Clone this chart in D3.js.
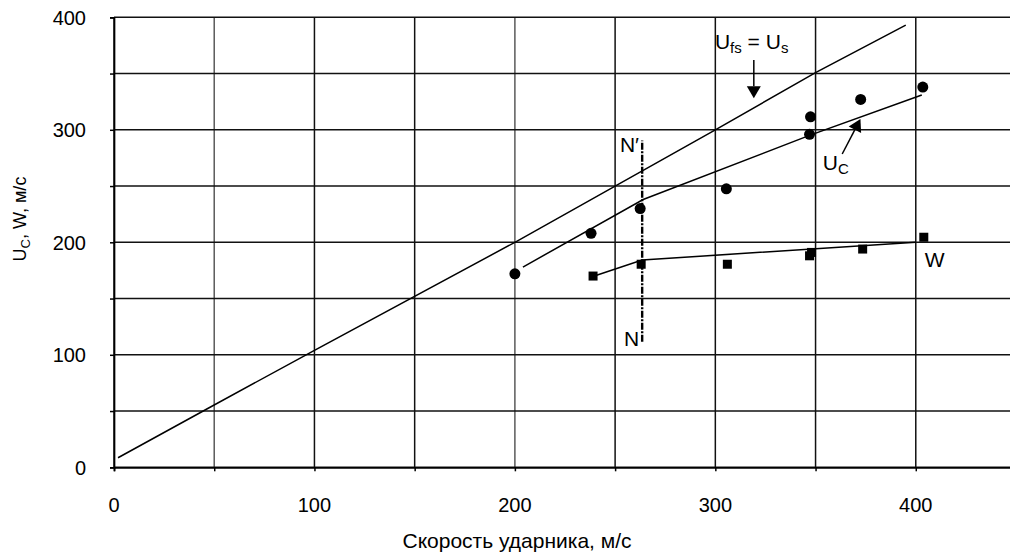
<!DOCTYPE html>
<html>
<head>
<meta charset="utf-8">
<script src="https://cdn.jsdelivr.net/npm/d3@7"></script>
<style>
  html, body { margin: 0; padding: 0; background: #fff; }
  svg { display: block; }
  text { font-family: "Liberation Sans", Arial, sans-serif; fill: #000; }
</style>
</head>
<body>
<svg id="chart" width="1010" height="555"></svg>
<script>
// Impactor velocity (m/s) vs. U_C and W (m/s)
const xTicks = [0, 100, 200, 300, 400];
const yTicks = [0, 100, 200, 300, 400];
const gridStep = 50;

// U_C measurements (circles)
const ucX = [200, 238, 262.5, 305.5, 347, 347.5, 372.5, 403.5];
const ucY = [172, 208, 230, 247.5, 296, 311.5, 327, 338];
// U_C trend line
const ucLineX = [204, 264, 347, 403];
const ucLineY = [178, 238, 295, 331];

// W measurements (squares)
const wX = [239, 263, 306, 347, 348, 373.5, 404];
const wY = [170, 180.5, 180.5, 188, 191, 194, 204.5];
// W trend line
const wLineX = [240, 263.5, 400];
const wLineY = [170.3, 184.3, 200];

// U_fs = U_s line
const usLineX = [2, 47, 100, 200, 300, 350, 395];
const usLineY = [8.5, 52.5, 104, 200, 300, 350.8, 393];

// N–N' section line
const nnX = 263.5;
const nnY = [111.5, 290.5];

const svg = d3.select("#chart");
const x = d3.scaleLinear().domain([0, 450]).range([114, 1016]);
const y = d3.scaleLinear().domain([0, 400]).range([467.3, 17.3]);

// grid
const gx = d3.range(0, 451, gridStep);
const gy = d3.range(0, 401, gridStep);
svg.append("g").selectAll("line").data(gx).join("line")
  .attr("x1", d => x(d)).attr("x2", d => x(d))
  .attr("y1", y(0)).attr("y2", y(400))
  .attr("stroke", d => (d === 50 || d === 200) ? "#5a5a5a" : "#111")
  .attr("stroke-width", 1.5);
svg.append("g").selectAll("line").data(gy).join("line")
  .attr("x1", x(0)).attr("x2", x(450))
  .attr("y1", d => y(d)).attr("y2", d => y(d))
  .attr("stroke", "#111").attr("stroke-width", 1.5);

// axes
const xAxis = svg.append("g").attr("transform", `translate(0,${y(0)})`)
  .call(d3.axisBottom(x).tickValues(gx).tickSize(4).tickFormat(""));
const yAxis = svg.append("g").attr("transform", `translate(${x(0)},0)`)
  .call(d3.axisLeft(y).tickValues(gy).tickSize(4).tickFormat(""));
[xAxis, yAxis].forEach(a => {
  a.selectAll("path").attr("stroke", "#000").attr("stroke-width", 1.7);
  a.selectAll("line").attr("stroke", "#000").attr("stroke-width", 1.5);
});

// tick labels
svg.append("g").selectAll("text").data(xTicks).join("text")
  .attr("x", d => x(d)).attr("y", 511.5)
  .attr("text-anchor", "middle").attr("font-size", 20)
  .text(d => d);
svg.append("g").selectAll("text").data(yTicks).join("text")
  .attr("x", 86).attr("y", d => y(d) + 7.5)
  .attr("text-anchor", "end").attr("font-size", 20)
  .text(d => d);

// axis titles
svg.append("text").attr("x", 517).attr("y", 547.5)
  .attr("text-anchor", "middle").attr("font-size", 21)
  .text("Скорость ударника, м/с");
const yt = svg.append("text")
  .attr("transform", `translate(25.5,219) rotate(-90)`)
  .attr("text-anchor", "middle").attr("font-size", 18);
yt.append("tspan").text("U");
yt.append("tspan").attr("font-size", 13).attr("dy", 4).text("C");
yt.append("tspan").attr("dy", -4).text(", W, м/с");

const line = d3.line().x(d => x(d[0])).y(d => y(d[1]));

// lines
svg.append("path").datum(d3.zip(usLineX, usLineY)).attr("d", line)
  .attr("fill", "none").attr("stroke", "#000").attr("stroke-width", 1.5);
svg.append("path").datum(d3.zip(ucLineX, ucLineY)).attr("d", line)
  .attr("fill", "none").attr("stroke", "#000").attr("stroke-width", 1.5);
svg.append("path").datum(d3.zip(wLineX, wLineY)).attr("d", line)
  .attr("fill", "none").attr("stroke", "#000").attr("stroke-width", 1.5);

// N–N' dash-dot line
svg.append("line")
  .attr("x1", x(nnX)).attr("x2", x(nnX))
  .attr("y1", y(nnY[0])).attr("y2", y(nnY[1]))
  .attr("stroke", "#000").attr("stroke-width", 2.4)
  .attr("stroke-dasharray", "7,1.5,2,1.5");

// markers
svg.append("g").selectAll("circle").data(d3.zip(ucX, ucY)).join("circle")
  .attr("cx", d => x(d[0])).attr("cy", d => y(d[1])).attr("r", 5.5)
  .attr("fill", "#000");
svg.append("g").selectAll("rect").data(d3.zip(wX, wY)).join("rect")
  .attr("x", d => x(d[0]) - 4.5).attr("y", d => y(d[1]) - 4.5)
  .attr("width", 9).attr("height", 9).attr("fill", "#000");

// arrows
function arrow(x0, y0, x1, y1) {
  const px0 = x(x0), py0 = y(y0), px1 = x(x1), py1 = y(y1);
  const ang = Math.atan2(py1 - py0, px1 - px0);
  const L = 12, W = 7;
  const bx = px1 - L * Math.cos(ang), by = py1 - L * Math.sin(ang);
  svg.append("line").attr("x1", px0).attr("y1", py0).attr("x2", bx).attr("y2", by)
    .attr("stroke", "#000").attr("stroke-width", 1.5);
  const nx = -Math.sin(ang), ny = Math.cos(ang);
  svg.append("path")
    .attr("d", `M${px1},${py1}L${bx + nx * W},${by + ny * W}L${bx - nx * W},${by - ny * W}Z`)
    .attr("fill", "#000");
}
arrow(319.2, 362, 319.2, 328);
arrow(363.3, 278.5, 372.4, 309.6);

// annotations
function label(tx, ty, parts) {
  const t = svg.append("text").attr("x", x(tx)).attr("y", y(ty)).attr("font-size", 21);
  parts.forEach(p => {
    const s = t.append("tspan").text(p.t);
    if (p.sub) s.attr("font-size", 15).attr("dy", 4);
    if (p.up) s.attr("dy", -4);
  });
}
label(299.8, 371.6, [{t: "U"}, {t: "fs", sub: true}, {t: " = U", up: true}, {t: "s", sub: true}]);
label(353.6, 264, [{t: "U"}, {t: "C", sub: true}]);
label(404.5, 178.3, [{t: "W"}]);
label(252.4, 280.5, [{t: "N′"}]);
label(254.4, 108, [{t: "N"}]);
</script>
</body>
</html>
